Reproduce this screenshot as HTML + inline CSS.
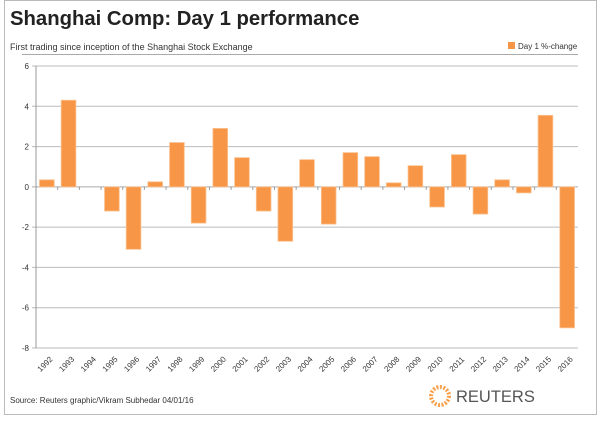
<!DOCTYPE html>
<html><head><meta charset="utf-8"><style>
body{margin:0;background:#fff;font-family:"Liberation Sans",Arial,sans-serif}
#wrap{position:relative;width:600px;height:421px;overflow:hidden}
</style></head><body>
<div id="wrap">
<svg id="svg" width="600" height="421" xmlns="http://www.w3.org/2000/svg">
<rect x="4.5" y="0.5" width="592" height="414" fill="none" stroke="#bbb"/>
<text x="10" y="25" font-size="20.3" font-weight="bold" fill="#222">Shanghai Comp: Day 1 performance</text>
<text x="10" y="50" font-size="9" fill="#333">First trading since inception of the Shanghai Stock Exchange</text>
<line x1="22" y1="54.5" x2="578" y2="54.5" stroke="#aaa"/>
<rect x="508" y="42" width="7" height="7" fill="#f79646"/>
<text x="518" y="49" font-size="8" fill="#333">Day 1 %-change</text>
<g id="grid"></g><g id="bars"></g><g id="axes"></g>
<text x="10" y="403" font-size="8" fill="#333">Source:     Reuters graphic/Vikram Subhedar 04/01/16</text>
<g>
<circle cx="440" cy="396" r="9" fill="none" stroke="#f7a04a" stroke-width="4" stroke-dasharray="2 1.5"/>
<text x="456" y="402" font-size="16.5" fill="#555">REUTERS</text>
</g>
</svg>
</div>
<script>
const years=["1992","1993","1994","1995","1996","1997","1998","1999","2000","2001","2002","2003","2004","2005","2006","2007","2008","2009","2010","2011","2012","2013","2014","2015","2016"];
const values=[0.35,4.3,0,-1.2,-3.1,0.25,2.2,-1.8,2.9,1.45,-1.2,-2.7,1.35,-1.85,1.7,1.5,0.2,1.05,-1.0,1.6,-1.35,0.35,-0.3,3.55,-7.0];
const yTicks=[6,4,2,0,-2,-4,-6,-8];
const NS="http://www.w3.org/2000/svg";
const L=36,R=578,T=66,B=348,yMin=-8,yMax=6;
const y=v=>T+(yMax-v)/(yMax-yMin)*(B-T);
const bw=(R-L)/years.length;
const x=i=>L+i*bw;
function mk(tag,attrs,parent){const e=document.createElementNS(NS,tag);for(const k in attrs)e.setAttribute(k,attrs[k]);document.getElementById(parent).appendChild(e);return e;}
yTicks.forEach(t=>{
  const g=mk('line',{x1:L-4,x2:R,y1:y(t),y2:y(t),stroke:t===0?'#aaa':'#bbb','stroke-width':1},'grid');
  
  
  const tx=mk('text',{x:L-7,y:y(t)+3,'font-size':8,'text-anchor':'end',fill:'#333'},'axes');
  tx.textContent=t;
  
  
});
const ax=mk('line',{x1:L,x2:L,y1:T,y2:B,stroke:'#999'},'axes');


values.forEach((v,i)=>{
  const top=Math.min(y(v),y(0)),h=Math.abs(y(v)-y(0));
  const r=mk('rect',{x:x(i)+3.5,y:top,width:bw-7,height:h,fill:'#f79646',stroke:'#fbc08e','stroke-width':0.8},'bars');
  
  
  const tk=mk('line',{x1:x(i),x2:x(i),y1:y(0),y2:y(0)+3,stroke:'#999'},'axes');
  
  
  const cx=x(i)+bw/2, cy=B+18;
  const lb=mk('text',{x:cx,y:cy,'font-size':8,'text-anchor':'middle',fill:'#333',transform:`rotate(-45 ${cx} ${cy})`},'axes');
  lb.textContent=years[i];
  
  
});
</script>
</body></html>
